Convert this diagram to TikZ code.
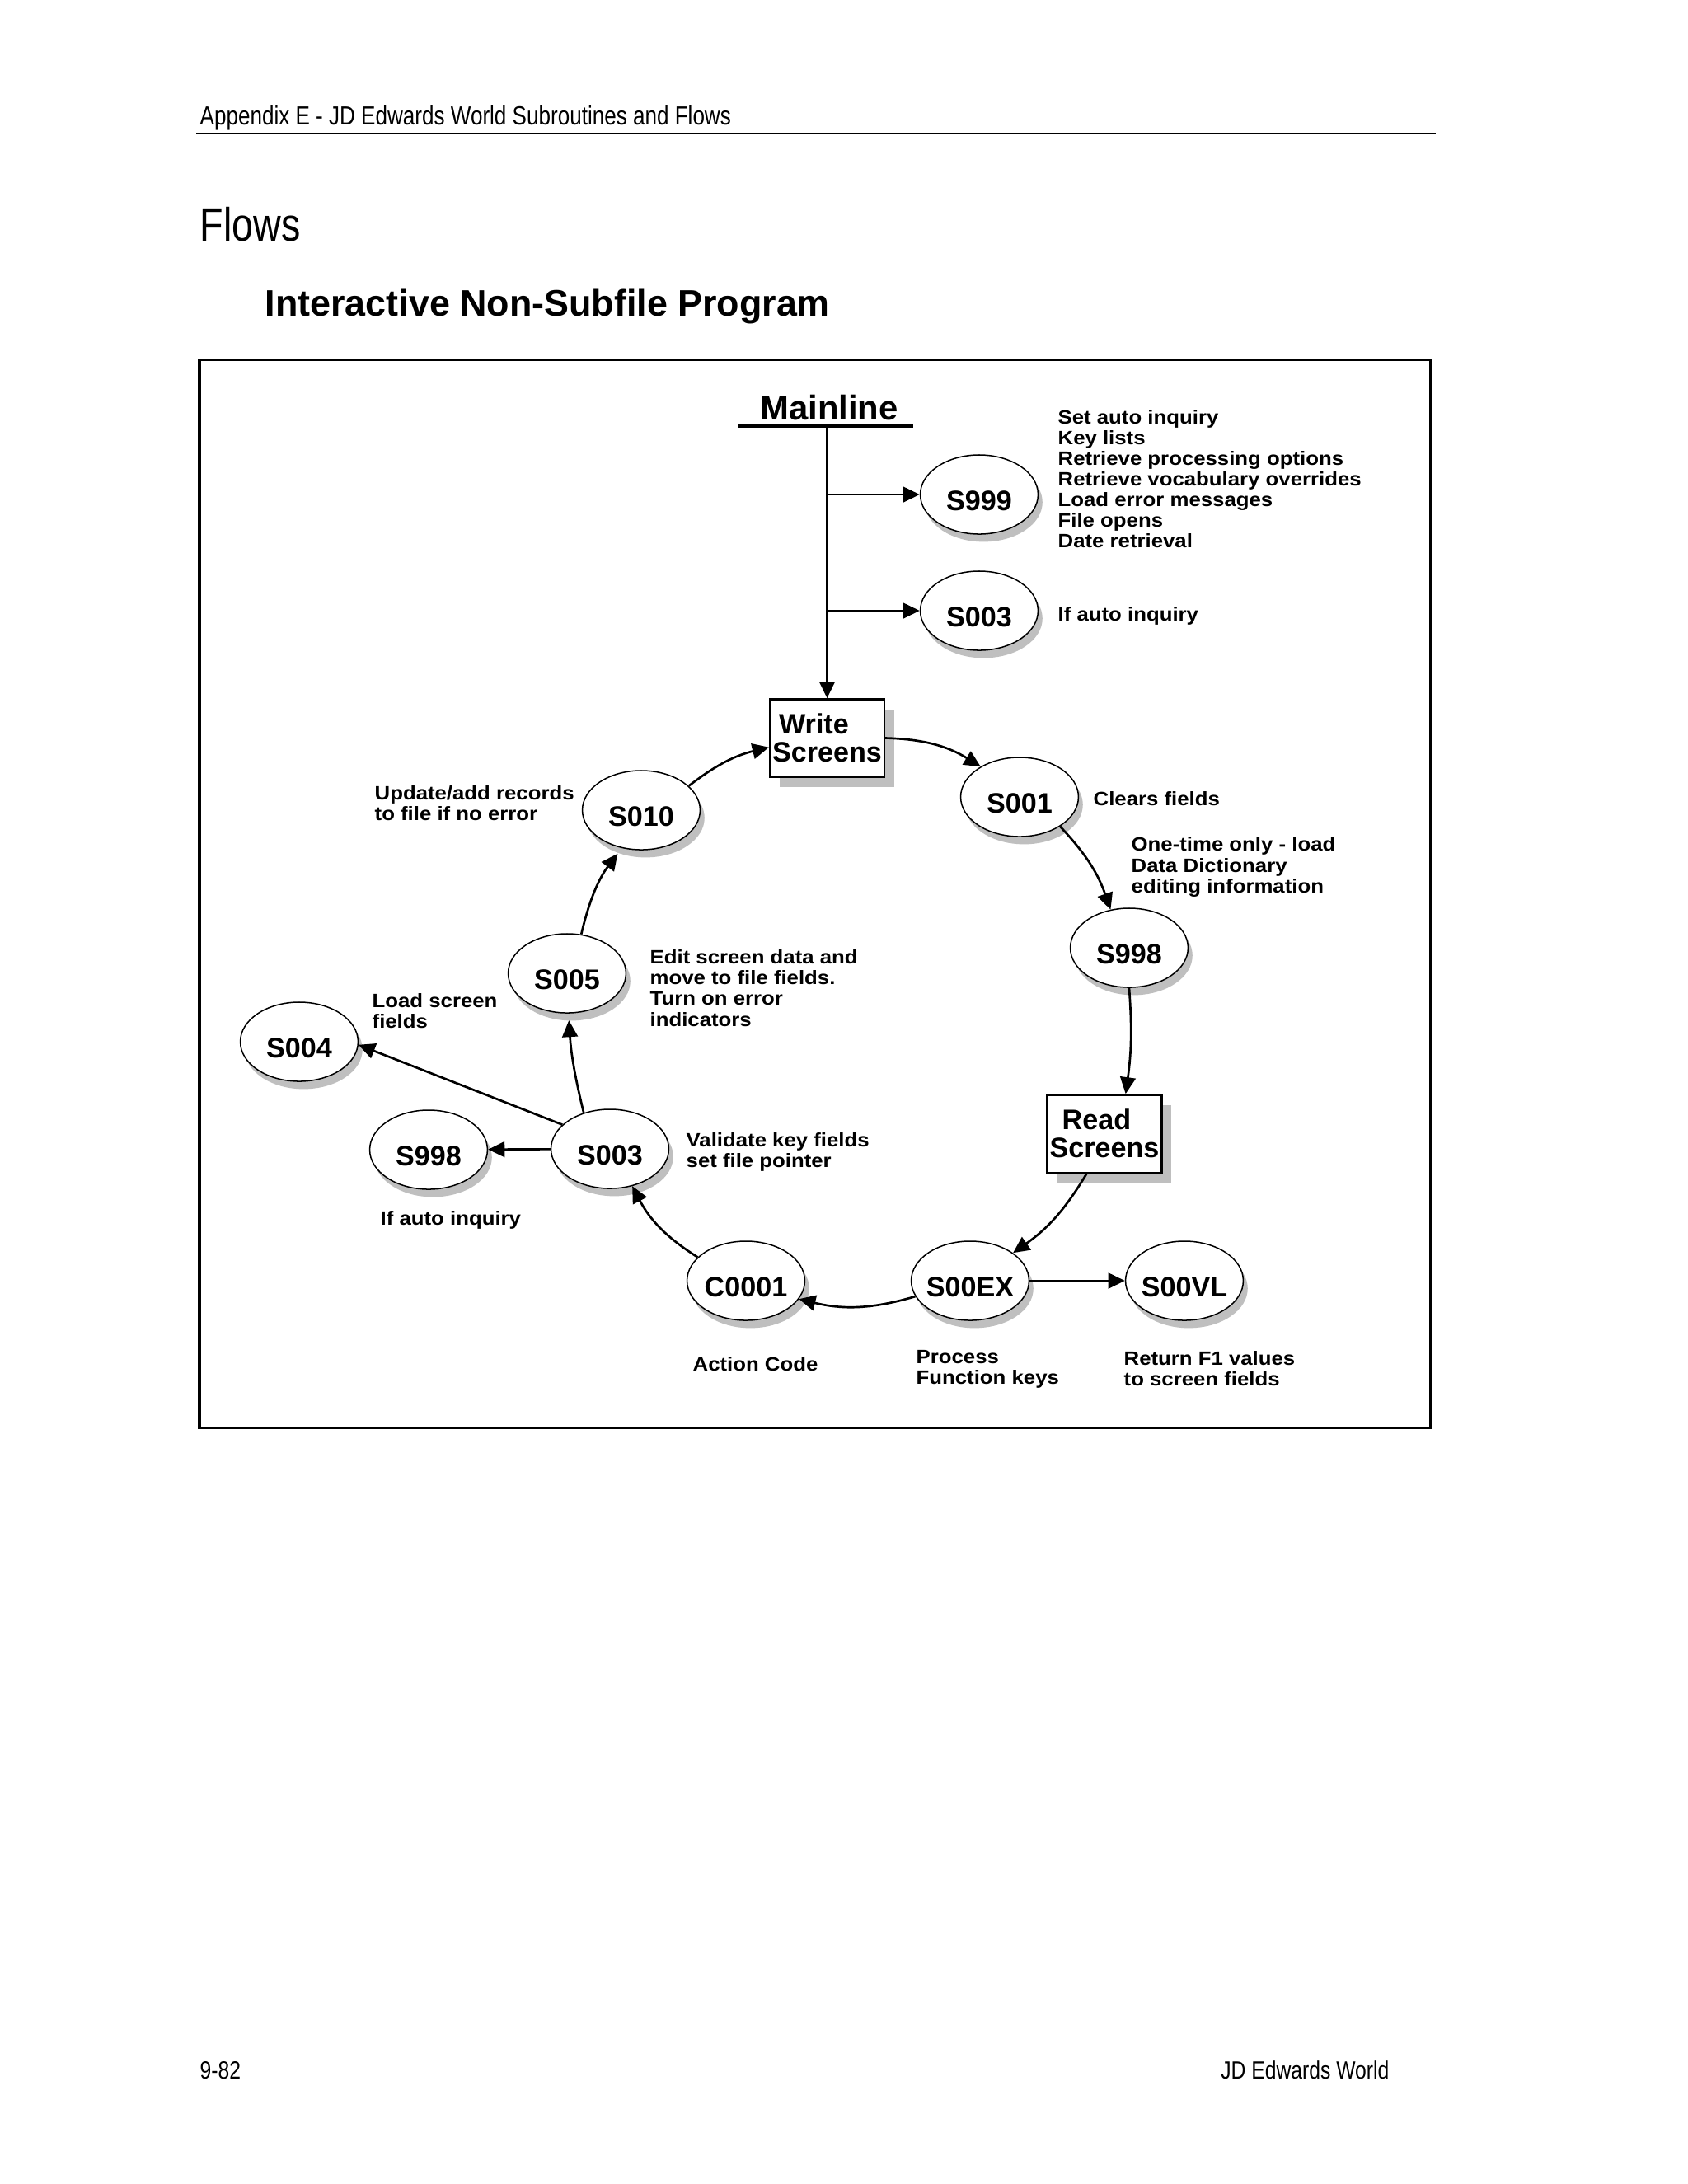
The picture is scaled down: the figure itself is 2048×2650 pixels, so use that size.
\documentclass[tikz,border=0pt]{standalone}
\usepackage{fontspec}
\setmainfont{Liberation Sans}
\newfontfamily\condfont[FakeStretch=0.82]{Liberation Sans}
\newfontfamily\descfont[FakeStretch=1.1]{Liberation Sans}
\usetikzlibrary{shapes.geometric,arrows.meta,shadows}
\newcommand\mkl[1]{\makebox[0pt]{\raisebox{-2.3pt}[\height][\depth]{#1}}}
\begin{document}
\begin{tikzpicture}[x=0.29883pt,y=-0.29883pt,
  ell/.style={ellipse,draw,line width=0.45pt,fill=white,minimum width=42.7pt,minimum height=28.7pt,inner sep=0pt,
    font=\bfseries\fontsize{10.2}{11}\selectfont,
    drop shadow={shadow xshift=1.6pt,shadow yshift=-2.8pt,fill=black!25,opacity=1}},
  scrbox/.style={rectangle,draw,line width=0.7pt,fill=white,minimum width=41.5pt,minimum height=28.2pt,inner sep=0pt,align=left,
    font=\bfseries\fontsize{10.2}{10.2}\selectfont,
    drop shadow={shadow xshift=3.6pt,shadow yshift=-3.8pt,fill=black!25,opacity=1}},
  desc/.style={anchor=west,inner sep=0pt,align=left,font=\descfont\bfseries\fontsize{7}{7.5}\selectfont},
  conn/.style={line width=0.8pt,-{Triangle[length=6pt,width=5.6pt]}},
  plainln/.style={line width=0.8pt}]
\useasboundingbox (0,0) rectangle (2048,2650);
\fill[white] (0,0) rectangle (2048,2650);

% page header
\node[anchor=base west,inner sep=0pt,font=\condfont\fontsize{9.5}{11}\selectfont] (hdr) at (242,151) {Appendix E - JD Edwards World Subroutines and Flows};
\coordinate (hrL) at (238,162);
\coordinate (hrR) at (1742,162);
\draw[line width=0.7pt] (hrL) -- (hrR);
\node[anchor=base west,inner sep=0pt,font=\condfont\fontsize{17}{20}\selectfont] (flows) at (242,292) {Flows};
\node[anchor=base west,inner sep=0pt,font=\bfseries\fontsize{13.4}{16}\selectfont] (title) at (321,383) {Interactive Non-Subfile Program};

% frame
\draw[line width=0.9pt] (242,436) rectangle (1735,1732);

% mainline
\node[anchor=base,inner sep=0pt,font=\bfseries\fontsize{12.5}{14}\selectfont] (main) at (1006,509) {Mainline};
\coordinate (mlL) at (896,517);
\coordinate (mlR) at (1108,517);
\coordinate (mlC) at (1003.5,517);
\coordinate (b1) at (1003.5,600);
\coordinate (b2) at (1003.5,741);
\draw[line width=1.3pt] (mlL) -- (mlR);

% nodes
\node[ell] (S999) at (1188,600) {\mkl{S999}};
\node[ell] (S003a) at (1188,741) {\mkl{S003}};
\node[scrbox] (WS) at (1003.5,895.5) {\hspace*{2.4pt}Write\\Screens};
\node[ell] (S001) at (1237,967) {\mkl{S001}};
\node[ell] (S998a) at (1370,1150) {\mkl{S998}};
\node[scrbox] (RS) at (1340,1375.5) {\hspace*{4.5pt}Read\\Screens};
\node[ell] (S00EX) at (1177,1554) {\mkl{S00EX}};
\node[ell] (S00VL) at (1437,1554) {\mkl{S00VL}};
\node[ell] (C0001) at (905,1554) {\mkl{C0001}};
\node[ell] (S003b) at (740,1394) {\mkl{S003}};
\node[ell] (S998b) at (520,1395) {\mkl{S998}};
\node[ell] (S004) at (363,1264) {\mkl{S004}};
\node[ell] (S005) at (688,1181) {\mkl{S005}};
\node[ell] (S010) at (778,983) {\mkl{S010}};

% descriptions
\node[desc] (d999) at (1283,581) {Set auto inquiry\\Key lists\\Retrieve processing options\\Retrieve vocabulary overrides\\Load error messages\\File opens\\Date retrieval};
\node[desc] (d003a) at (1283,747) {If auto inquiry};
\node[desc] (d001) at (1326,969) {Clears fields};
\node[desc] (d998a) at (1372,1052) {One-time only - load\\Data Dictionary\\editing information};
\node[desc] (d010) at (454,975) {Update/add records\\to file if no error};
\node[desc] (d005) at (788,1199) {Edit screen data and\\move to file fields.\\Turn on error\\indicators};
\node[desc] (d004) at (451,1227) {Load screen\\fields};
\node[desc] (d003b) at (832,1398) {Validate key fields\\set file pointer};
\node[desc] (d998b) at (461,1480) {If auto inquiry};
\node[desc] (dc0001) at (840,1655) {Action Code};
\node[desc] (d00ex) at (1111,1661) {Process\\Function keys};
\node[desc] (d00vl) at (1363,1661) {Return F1 values\\to screen fields};

% connectors
\draw[conn] (mlC) -- (WS.north);
\draw[conn] (b1) -- (S999.west);
\draw[conn] (b2) -- (S003a.west);
\draw[conn] (WS.east) to[bend left=15] (S001.142);
\draw[conn] (S001.-36) to[bend left=12] (S998a.116);
\draw[conn] (S998a.south) to[bend left=6] (RS.62);
\draw[conn] (RS.246) to[bend left=12] (S00EX.33);
\draw[conn] (S00EX) -- (S00VL);
\draw[conn] (S00EX.196) to[bend left=15] (C0001.-19);
\draw[conn] (C0001.154) to[bend left=15] (S003b.-59);
\draw[conn] (S003b) -- (S998b);
\draw[conn] (S003b.153) -- (S004.-3);
\draw[conn,shorten >=2.5pt] (S003b.126) to[bend left=5] (S005.-88);
\draw[conn,shorten >=2.5pt] (S005.70) to[bend left=12] (S010.-117);
\draw[conn] (S010.27) to[bend left=12] (WS.189);

% footer
\node[anchor=base west,inner sep=0pt,font=\condfont\fontsize{9}{11}\selectfont] (pg) at (242,2522) {9-82};
\node[anchor=base east,inner sep=0pt,font=\condfont\fontsize{9}{11}\selectfont] (ft) at (1686,2522) {JD Edwards World};
\end{tikzpicture}
\end{document}
